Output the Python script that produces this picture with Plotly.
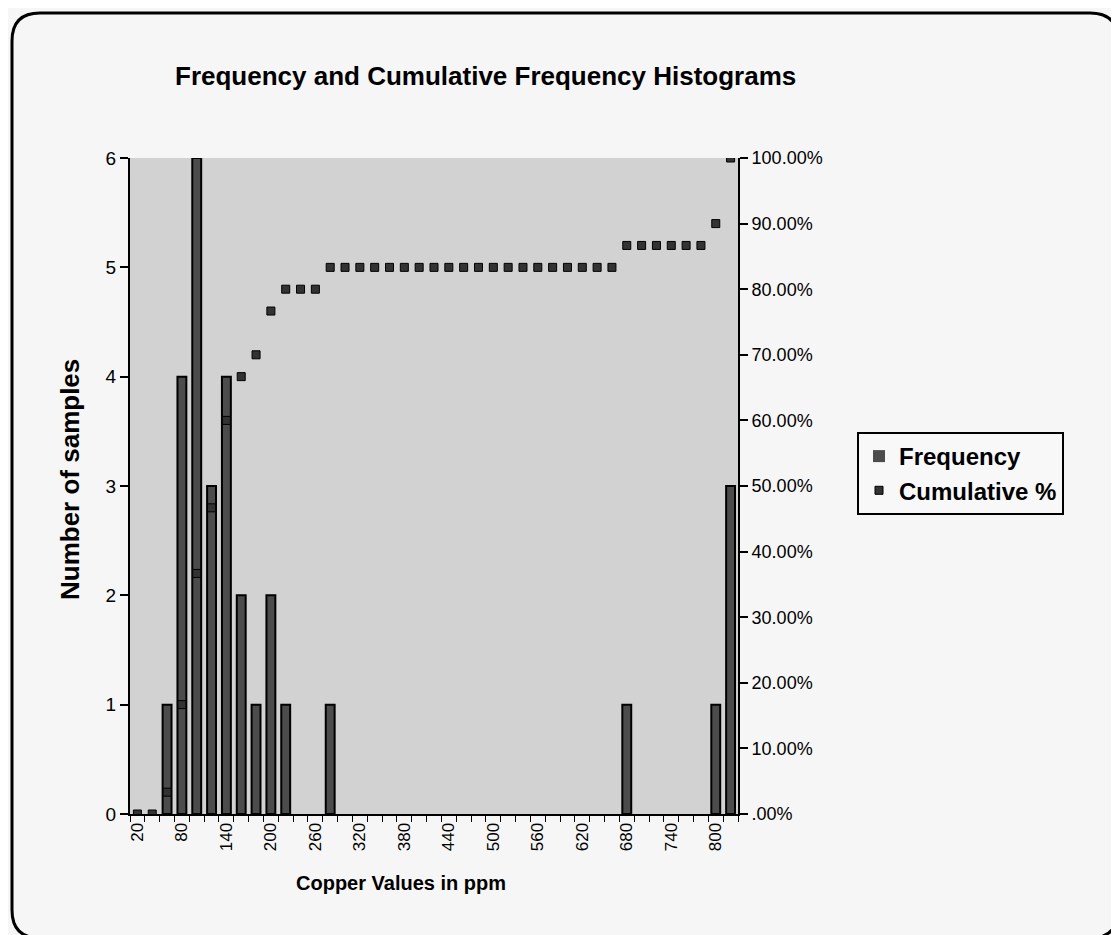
import plotly.graph_objects as go

# ---------------- data ----------------
bins = ["20", "40", "60", "80", "100", "120", "140", "160", "180", "200",
        "220", "240", "260", "280", "300", "320", "340", "360", "380", "400",
        "420", "440", "460", "480", "500", "520", "540", "560", "580", "600",
        "620", "640", "660", "680", "700", "720", "740", "760", "780", "800",
        "More"]
frequency = [0, 0, 1, 4, 6, 3, 4, 2, 1, 2,
             1, 0, 0, 1, 0, 0, 0, 0, 0, 0,
             0, 0, 0, 0, 0, 0, 0, 0, 0, 0,
             0, 0, 0, 1, 0, 0, 0, 0, 0, 1,
             3]
cumulative_pct = [0.0, 0.0, 3.33, 16.67, 36.67, 46.67, 60.00, 66.67, 70.00, 76.67,
                  80.00, 80.00, 80.00, 83.33, 83.33, 83.33, 83.33, 83.33, 83.33, 83.33,
                  83.33, 83.33, 83.33, 83.33, 83.33, 83.33, 83.33, 83.33, 83.33, 83.33,
                  83.33, 83.33, 83.33, 86.67, 86.67, 86.67, 86.67, 86.67, 86.67, 90.00,
                  100.00]
x_label_every = 3
left_ticks = [0, 1, 2, 3, 4, 5, 6]
right_tickvals = [0, 10, 20, 30, 40, 50, 60, 70, 80, 90, 100]
right_ticktext = [".00%", "10.00%", "20.00%", "30.00%", "40.00%", "50.00%",
                  "60.00%", "70.00%", "80.00%", "90.00%", "100.00%"]

# ---------------- layout geometry ----------------
W, H = 1119, 935
L, R, T, B = 122, 389, 150, 129
PW, PH = W - L - R, H - T - B


def px_x(px):
    return (px - L) / PW


def px_y(py):
    return (H - B - py) / PH


FONT = "Liberation Sans, Arial, sans-serif"
idx = list(range(len(bins)))
# empty bins get no outline, so nothing is drawn for them
bar_outline = [2 if f > 0 else 0 for f in frequency]

fig = go.Figure()
fig.add_trace(go.Bar(
    x=idx, y=frequency, name="Frequency",
    marker=dict(color="#4c4c4c", line=dict(color="black", width=bar_outline)),
    width=0.6,
))
fig.add_trace(go.Scatter(
    x=idx, y=cumulative_pct, name="Cumulative %", yaxis="y2",
    mode="markers",
    marker=dict(symbol="square", size=8, color="#333333",
                line=dict(color="black", width=1)),
))

fig.update_layout(
    width=W, height=H,
    margin=dict(l=L, r=R, t=T, b=B, pad=0),
    paper_bgcolor="#f6f6f6",
    plot_bgcolor="#d2d2d2",
    font=dict(family=FONT, size=17, color="black"),
    showlegend=True,
    legend=dict(
        x=px_x(849), y=px_y(424), xanchor="left", yanchor="top",
        bgcolor="#f8f8f8", bordercolor="black", borderwidth=2,
        font=dict(family=FONT, size=24, color="black", weight="bold"),
        itemwidth=30, tracegroupgap=4,
    ),
    bargap=0.4,
    xaxis=dict(
        range=[-0.5, len(bins) - 0.5],
        tickmode="array",
        tickvals=idx[::x_label_every],
        ticktext=bins[::x_label_every],
        tickangle=-90,
        ticks="",
        showgrid=False, zeroline=False,
        showline=True, linecolor="black", linewidth=2,
        tickfont=dict(size=17),
        minor=dict(tickmode="array",
                   tickvals=[i - 0.5 for i in idx] + [len(bins) - 0.5],
                   ticks="outside", ticklen=6, tickcolor="black",
                   tickwidth=1, showgrid=False),
    ),
    yaxis=dict(
        range=[0, 6], tickmode="array", tickvals=left_ticks,
        ticks="outside", ticklen=8, tickcolor="black", tickwidth=2,
        showgrid=False, zeroline=False,
        showline=True, linecolor="black", linewidth=2,
        tickfont=dict(size=19),
    ),
    yaxis2=dict(
        range=[0, 100], overlaying="y", side="right",
        tickmode="array", tickvals=right_tickvals, ticktext=right_ticktext,
        ticks="outside", ticklen=8, tickcolor="black", tickwidth=2,
        showgrid=False, zeroline=False,
        showline=True, linecolor="black", linewidth=2,
        tickfont=dict(size=18),
    ),
    annotations=[
        dict(text="<b>Frequency and Cumulative Frequency Histograms</b>",
             xref="paper", yref="paper", x=px_x(477), y=px_y(68),
             xanchor="center", yanchor="middle", showarrow=False,
             font=dict(family=FONT, size=26)),
        dict(text="<b>Number of samples</b>",
             xref="paper", yref="paper", x=px_x(62), y=px_y(472),
             xanchor="center", yanchor="middle", showarrow=False,
             textangle=-90, font=dict(family=FONT, size=26)),
        dict(text="<b>Copper Values in ppm</b>",
             xref="paper", yref="paper", x=px_x(393), y=px_y(875),
             xanchor="center", yanchor="middle", showarrow=False,
             font=dict(family=FONT, size=20)),
    ],
)

# rounded chart-area border around the whole picture
x0, x1 = px_x(4), px_x(1110)
y0, y1 = px_y(930), px_y(5)
rx, ry = 28 / PW, 28 / PH
path = (f"M {x0 + rx},{y1} L {x1 - rx},{y1} Q {x1},{y1} {x1},{y1 - ry} "
        f"L {x1},{y0 + ry} Q {x1},{y0} {x1 - rx},{y0} "
        f"L {x0 + rx},{y0} Q {x0},{y0} {x0},{y0 + ry} "
        f"L {x0},{y1 - ry} Q {x0},{y1} {x0 + rx},{y1} Z")
fig.add_shape(type="path", path=path, xref="paper", yref="paper",
              line=dict(color="black", width=3), layer="above")

fig.write_html("out.html")
